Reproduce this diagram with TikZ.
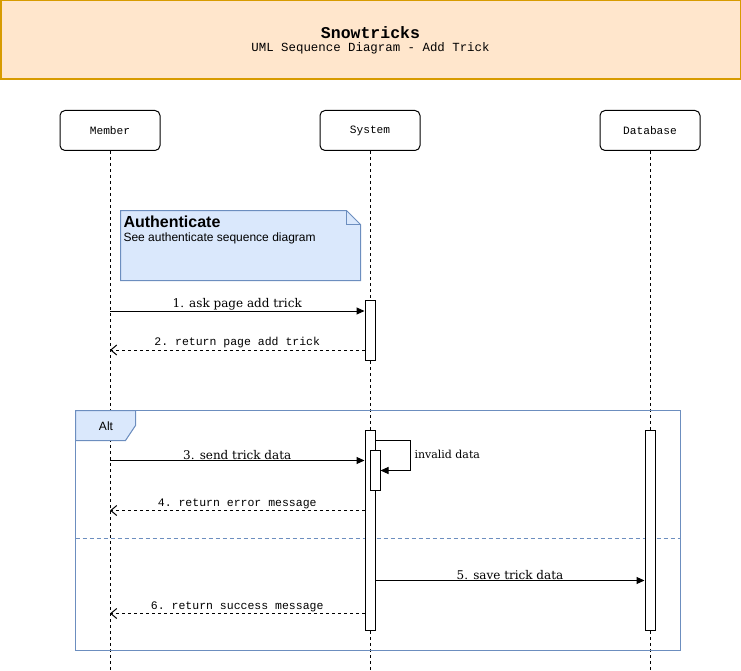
\documentclass[tikz,border=0pt]{standalone}
\usepackage{fontspec}
\setmainfont{DejaVu Serif}
\setsansfont{Liberation Sans}
\setmonofont{Liberation Mono}
\usetikzlibrary{arrows.meta}

\definecolor{titlefill}{HTML}{FFE6CC}
\definecolor{titleline}{HTML}{D79B00}
\definecolor{notefill}{HTML}{DAE8FC}
\definecolor{noteline}{HTML}{6C8EBF}

\begin{document}
\begin{tikzpicture}[x=1pt, y=-1pt, line width=1pt,
  actor/.style={draw, rounded corners=5pt, minimum width=100pt, minimum height=40pt,
    inner sep=0pt, font=\fontsize{11.2}{13}\selectfont\ttfamily},
  lifeline/.style={dash pattern=on 3pt off 3pt},
  activation/.style={draw, fill=white, minimum width=10pt, inner sep=0pt},
  call/.style={-{Triangle[length=8pt,width=7pt]}},
  reply/.style={dash pattern=on 3pt off 3pt, -{Straight Barb[length=6pt,width=10pt]}},
  calllabel/.style={above, inner sep=0.5pt, font=\fontsize{12}{14}\selectfont},
  replylabel/.style={above, inner sep=1.5pt, font=\fontsize{11.5}{13}\selectfont\ttfamily}]
  \useasboundingbox (0,0) rectangle (741,671);

  % Title
  \draw[titleline, fill=titlefill, line width=1.5pt] (0.75,0.75) rectangle (740.25,79.25);
  \node[font=\fontsize{16.5}{18}\selectfont\ttfamily\bfseries] (title) at (370.5,33)
    {Snowtricks};
  \node[font=\fontsize{12.4}{14}\selectfont\ttfamily] (subtitle) at (370.5,48.5)
    {UML Sequence Diagram - Add Trick};

  % Participants
  \node[actor] (member)   at (110,130.5) {Member};
  \node[actor] (system)   at (370,130.5) {System};
  \node[actor] (database) at (650,130.5) {Database};

  % Lifelines
  \coordinate (memberEnd)   at (110,671);
  \coordinate (systemEnd)   at (370,671);
  \coordinate (databaseEnd) at (650,671);
  \draw[lifeline] (member) -- (memberEnd);
  \draw[lifeline] (system) -- (systemEnd);
  \draw[lifeline] (database) -- (databaseEnd);

  % Note
  \draw[noteline, fill=notefill]
    (120.5,210.5) -- (346.5,210.5) -- (360.5,224.5) -- (360.5,280.5) -- (120.5,280.5) -- cycle;
  \draw[noteline] (346.5,210.5) -- (346.5,224.5) -- (360.5,224.5);
  \node[anchor=base west, inner sep=0pt, font=\fontsize{16}{18}\selectfont\sffamily\bfseries]
    (noteTitle) at (123,227) {Authenticate};
  \node[anchor=base west, inner sep=0pt, font=\fontsize{12}{14}\selectfont\sffamily]
    (noteText) at (123,241.5) {See authenticate sequence diagram};

  % Alt fragment
  \draw[noteline] (75.5,410.5) rectangle (680.5,650.5);
  \draw[noteline, fill=notefill]
    (75.5,410.5) -- (135.5,410.5) -- (135.5,425.5) -- (125.5,440.5) -- (75.5,440.5) -- cycle;
  \node[font=\fontsize{12}{14}\selectfont\sffamily] (altLabel) at (106,426.5) {Alt};
  \draw[noteline, dash pattern=on 4pt off 3pt] (75.5,538.5) -- (680.5,538.5);

  % Activations
  \node[activation, minimum height=60pt]  (act1) at (370,330) {};
  \node[activation, minimum height=200pt] (act2) at (370,530) {};
  \node[activation, minimum height=40pt]  (act3) at (375,470) {};
  \node[activation, minimum height=200pt] (act4) at (650,530) {};

  % Messages
  \coordinate (m1) at (110,311);
  \coordinate (m2) at (110,350);
  \coordinate (m3) at (110,460.5);
  \coordinate (m4) at (110,510.5);
  \coordinate (m6) at (110,613.5);
  \coordinate (selfTop) at (410.5,440);
  \coordinate (selfBot) at (410.5,470.5);
  \coordinate (m5) at (650,580.5);

  \draw[call] (m1) -- (act1.west |- m1) node[midway, calllabel] {1. ask page add trick};
  \draw[reply] (act1.west |- m2) -- (m2) node[midway, replylabel] {2. return page add trick};

  \draw[call] (m3) -- (act2.west |- m3) node[midway, calllabel] {3. send trick data};
  \draw[call] (act2.east |- selfTop) -- (selfTop) -- (selfBot) -- (act3.east |- selfBot);
  \node[anchor=west, inner sep=0pt, font=\fontsize{11}{13}\selectfont] (selfLabel) at (414,454) {invalid data};
  \draw[reply] (act2.west |- m4) -- (m4) node[midway, replylabel] {4. return error message};

  \draw[call] (act2.east |- m5) -- (act4.west |- m5) node[midway, calllabel] {5. save trick data};
  \draw[reply] (act2.west |- m6) -- (m6) node[midway, replylabel] {6. return success message};
\end{tikzpicture}
\end{document}
